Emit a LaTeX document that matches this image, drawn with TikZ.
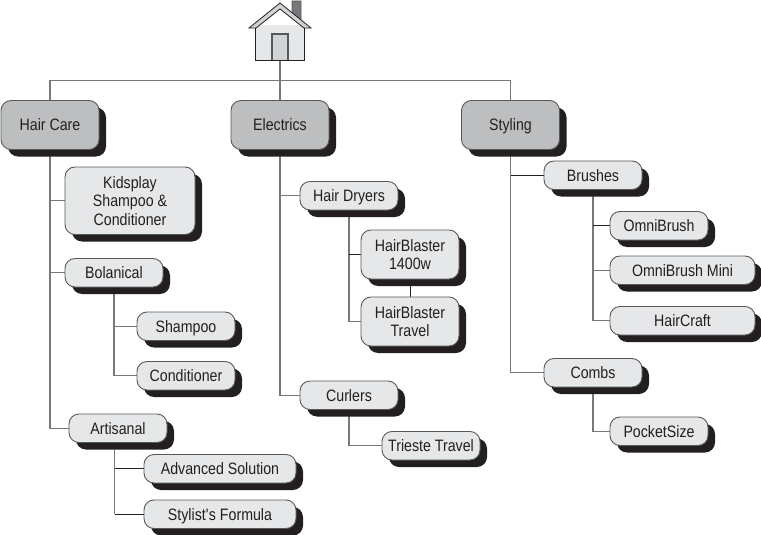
\documentclass[tikz,border=0pt]{standalone}
\usepackage{fontspec}
\setmainfont[FakeStretch=0.86]{Liberation Sans}
\usetikzlibrary{calc, positioning, shadows, backgrounds}
\definecolor{shadowdark}{HTML}{231F20}
\definecolor{edgegray}{HTML}{58595B}
\definecolor{linegray}{HTML}{77787B}
\definecolor{topfill}{HTML}{BCBEC0}
\definecolor{subfill}{HTML}{E6E7E8}
\definecolor{doorfill}{HTML}{D1D3D4}

\begin{document}
\begin{tikzpicture}[every node/.style={font=\fontsize{16.5}{18.4}\selectfont, text=shadowdark},
    box/.style={draw=edgegray, line width=0.9pt, rounded corners=10pt, inner sep=0pt, outer sep=0pt, align=center,
        general shadow={shadow xshift=7pt, shadow yshift=-7pt, fill=shadowdark}},
    oneline/.style={text height=12.5pt, text depth=0.7pt},
    topbox/.style={box, oneline, fill=topfill, minimum width=98pt, minimum height=49pt},
    tallbox/.style={box, fill=subfill, minimum width=98pt, minimum height=49pt},
    subbox/.style={box, oneline, fill=subfill, minimum width=98pt, minimum height=28.5pt},
    link/.style={draw=linegray, line width=1.1pt},
    linkdark/.style={draw=shadowdark, line width=0.7pt}]
    \useasboundingbox (0,0) rectangle (761pt,-535pt);

    % top row
    \node[topbox] (hc) at (50pt,-125pt) {Hair Care};
    \node[topbox, right=132pt of hc] (el) {Electrics};
    \node[topbox, right=132.5pt of el] (st) {Styling};

    % hair care
    \node[tallbox, minimum width=130pt, minimum height=67.5pt, below right=17.5pt and 64pt of hc.south west] (kids) {Kidsplay\\Shampoo \&\\Conditioner};
    \node[subbox, below right=24pt and 0pt of kids.south west] (bol) {Bolanical};
    \node[subbox, below right=25pt and 72pt of bol.south west] (sham) {Shampoo};
    \node[subbox, below=21pt of sham] (cond) {Conditioner};
    \node[subbox, below right=127pt and 4pt of bol.south west] (art) {Artisanal};
    \node[subbox, minimum width=152pt, below right=12pt and 75pt of art.south west] (adv) {Advanced Solution};
    \node[subbox, minimum width=152pt, below=17pt of adv] (sty) {Stylist\textquotesingle s Formula};

    % electrics
    \node[subbox, below right=32pt and 69pt of el.south west] (hd) {Hair Dryers};
    \node[tallbox, below right=20pt and 61pt of hd.south west] (hb) {HairBlaster\\1400w};
    \node[tallbox, below=18pt of hb] (ht) {HairBlaster\\Travel};
    \node[subbox, below=171pt of hd] (cur) {Curlers};
    \node[subbox, below right=22pt and 82pt of cur.south west] (tri) {Trieste Travel};

    % styling
    \node[subbox, below right=11.5pt and 82.5pt of st.south west] (br) {Brushes};
    \node[subbox, below right=22pt and 66pt of br.south west] (omni) {OmniBrush};
    \node[subbox, minimum width=145pt, below right=16pt and 0pt of omni.south west] (mini) {OmniBrush Mini};
    \node[subbox, minimum width=145pt, below=22pt of mini] (hcr) {HairCraft};
    \node[subbox, below=169pt of br] (comb) {Combs};
    \node[subbox, below right=30pt and 66pt of comb.south west] (pock) {PocketSize};

    % house
    \coordinate (home) at (280pt,-60.5pt);
    \begin{scope}[shift={(home)}, x=1pt, y=1pt]
        \draw[draw=edgegray, fill=linegray, line width=0.9pt] (12,44) -- (12,59.5) -- (21,59.5) -- (21,36) -- cycle;
        \fill[subfill] (-25,0) rectangle (24,35);
        \draw[draw=shadowdark, line width=0.9pt] (-25,32.5) -- (-25,0) -- (24,0) -- (24,32.5);
        \draw[draw=edgegray, fill=doorfill, line width=1.1pt] (-8,0) -- (-8,26.5) -- (8,26.5) -- (8,0);
        \draw[draw=shadowdark, fill=doorfill, line width=0.8pt] (0,57.5) -- (31,32.5) -- (24,32.5) -- (0,51.5) -- (-24,32.5) -- (-31,32.5) -- cycle;
    \end{scope}

    % connectors
    \begin{pgfonlayer}{background}
        \coordinate (bus) at ($(home)!.5!(el.north)$);
        \draw[link] (home) -- (el.north);
        \draw[link] (hc.north) |- (bus) -| (st.north);

        \draw[link] (hc.south) |- (kids.west);
        \draw[link] (hc.south) |- (bol.west);
        \draw[link] (hc.south) |- (art.west);
        \draw[link] (bol.south) |- (sham.west);
        \draw[link] (bol.south) |- (cond.west);
        \coordinate (artdrop) at ([xshift=-3.5pt]art.south);
        \draw[link] (artdrop) -- (artdrop |- sty.west);
        \draw[linkdark] (artdrop |- adv.west) -- (adv.west);
        \draw[linkdark] (artdrop |- sty.west) -- (sty.west);

        \draw[link] (el.south) |- (hd.west);
        \draw[link] (el.south) |- (cur.west);
        \draw[link] (hd.south) -- (hd.south |- ht.west) -- (ht.west);
        \draw[linkdark] (hd.south |- hb.west) -- (hb.west);
        \draw[linkdark] (hb.south) -- (ht.north);
        \draw[link] (cur.south) |- (tri.west);

        \draw[link] (st.south) -- (st.south |- comb.west) -- (comb.west);
        \draw[linkdark] (st.south |- br.west) -- (br.west);
        \coordinate (brdrop) at (br.south);
        \draw[link] (brdrop) |- (hcr.west);
        \draw[link] (brdrop) |- (mini.west);
        \draw[linkdark] (brdrop |- omni.west) -- (omni.west);
        \draw[link] (comb.south) |- (pock.west);
    \end{pgfonlayer}
\end{tikzpicture}
\end{document}
